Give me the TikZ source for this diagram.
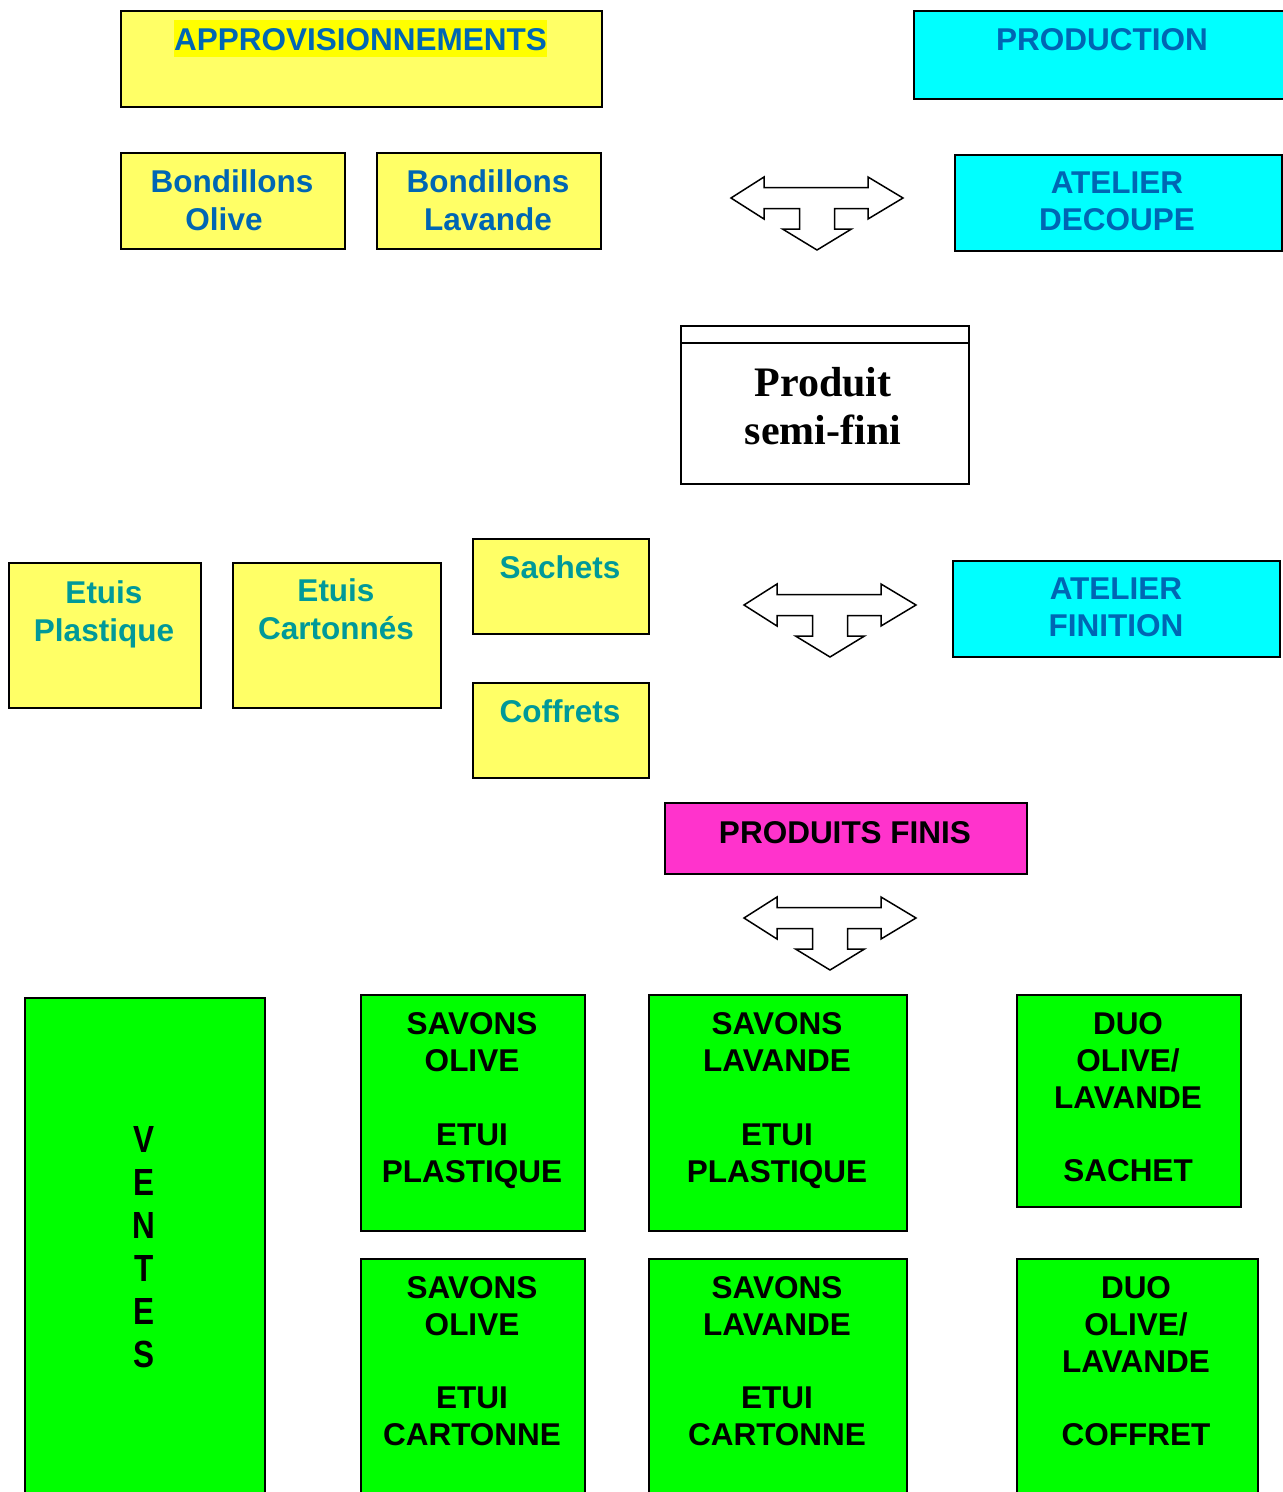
\documentclass[tikz,border=0pt]{standalone}
\usepackage{fontspec}
\setmainfont{Liberation Sans}
\newfontfamily\timesf{Liberation Serif}
\definecolor{tblue}{RGB}{0,102,179}
\definecolor{tteal}{RGB}{0,153,153}
\definecolor{lyellow}{RGB}{255,255,102}
\definecolor{hyellow}{RGB}{255,255,0}
\definecolor{tcyan}{RGB}{0,255,255}
\definecolor{tgreen}{RGB}{0,255,0}
\definecolor{tmag}{RGB}{255,51,204}
\tikzset{
  box/.style={draw=black, line width=1.6pt, anchor=north west, inner sep=0pt},
  txt/.style={anchor=north, inner sep=0pt, align=center, font=\bfseries\fontsize{31.5}{37}\selectfont},
  tarrow/.pic={
    \draw[line width=1.5pt, fill=white, line join=miter]
      (-86,0) -- (-53,-21) -- (-53,-10.5) -- (51,-10.5) -- (51,-21) -- (86,0)
      -- (51,21) -- (51,10.5) -- (17.5,10.5) -- (17.5,31) -- (34.5,31) -- (0,52)
      -- (-34.5,31) -- (-17.5,31) -- (-17.5,10.5) -- (-53,10.5) -- (-53,21) -- cycle;
  }
}
\begin{document}
\begin{tikzpicture}[x=1pt,y=-1pt]
\useasboundingbox (0,0) rectangle (1283,1492);
\clip (0,0) rectangle (1283,1492);

% Approvisionnements
\node[box, fill=lyellow, minimum width=481pt, minimum height=96pt] (appro) at (120,10) {};
\node[anchor=base, inner xsep=0pt, inner ysep=0pt, fill=hyellow, text=tblue, text height=30.5pt, text depth=6.5pt,
      font=\bfseries\fontsize{31.5}{37}\selectfont] (approt) at (360.5,50.5) {APPROVISIONNEMENTS};

% Production
\node[box, fill=tcyan, minimum width=380pt, minimum height=88pt] (prod) at (913,10) {};
\node[txt, text=tblue] (prodt) at (1102,28) {PRODUCTION};

% Bondillons
\node[box, fill=lyellow, minimum width=224pt, minimum height=96pt] (bo) at (120,152) {};
\node[txt, text=tblue] (bot) at (232,169) {Bondillons\\[1pt]Olive\kern16pt};
\node[box, fill=lyellow, minimum width=224pt, minimum height=96pt] (bl) at (376,152) {};
\node[txt, text=tblue] (blt) at (488,169) {Bondillons\\[1pt]Lavande};

% Atelier decoupe
\node[box, fill=tcyan, minimum width=327pt, minimum height=96pt] (ad) at (954,154) {};
\node[txt, text=tblue] (adt) at (1117,172) {ATELIER\\DECOUPE};

\pic (a1) at (817,198) {tarrow};

% Produit semi-fini
\node[box, fill=white, minimum width=288pt, minimum height=158pt] (psf) at (680,325) {};
\draw[line width=1.6pt] (psf.north west) ++(0,18) coordinate (psfl) -- (psfl -| psf.east);
\node[anchor=north, inner sep=0pt, align=center, font=\timesf\bfseries\fontsize{42}{48}\selectfont] (psft) at (823,367) {Produit\\semi-fini};

% Emballages
\node[box, fill=lyellow, minimum width=192pt, minimum height=145pt] (ep) at (8,562) {};
\node[txt, text=tteal] (ept) at (104,580) {Etuis\\[1pt]Plastique};
\node[box, fill=lyellow, minimum width=208pt, minimum height=145pt] (ec) at (232,562) {};
\node[txt, text=tteal] (ect) at (336,578) {Etuis\\[1pt]Cartonnés};
\node[box, fill=lyellow, minimum width=176pt, minimum height=95pt] (sa) at (472,538) {};
\node[txt, text=tteal] (sat) at (560,555) {Sachets};
\node[box, fill=lyellow, minimum width=176pt, minimum height=95pt] (co) at (472,682) {};
\node[txt, text=tteal] (cot) at (560,699) {Coffrets};

% Atelier finition
\node[box, fill=tcyan, minimum width=327pt, minimum height=96pt] (af) at (952,560) {};
\node[txt, text=tblue] (aft) at (1116,578) {ATELIER\\FINITION};

\pic (a2) at (830,605) {tarrow};

% Produits finis
\node[box, fill=tmag, minimum width=362pt, minimum height=71pt] (pf) at (664,802) {};
\node[txt, text=black] (pft) at (845,821) {PRODUITS FINIS};

\pic (a3) at (830,918) {tarrow};

% Ventes
\node[box, fill=tgreen, minimum width=240pt, minimum height=520pt] (ve) at (24,997) {};
\node[anchor=north, inner sep=0pt, align=center, yscale=1.2, transform shape,
      font=\bfseries\fontsize{31.5}{35.8}\selectfont] (vet) at (144,1126) {V\\E\\N\\T\\E\\S};

% Produits
\node[box, fill=tgreen, minimum width=224pt, minimum height=236pt] (sop) at (360,994) {};
\node[txt] (sopt) at (472,1012) {SAVONS\\OLIVE\\[37pt]ETUI\\PLASTIQUE};
\node[box, fill=tgreen, minimum width=258pt, minimum height=236pt] (slp) at (648,994) {};
\node[txt] (slpt) at (777,1012) {SAVONS\\LAVANDE\\[37pt]ETUI\\PLASTIQUE};
\node[box, fill=tgreen, minimum width=224pt, minimum height=212pt] (dus) at (1016,994) {};
\node[txt] (dust) at (1128,1012) {DUO\\OLIVE/\\LAVANDE\\[36pt]SACHET};

\node[box, fill=tgreen, minimum width=224pt, minimum height=260pt] (soc) at (360,1258) {};
\node[txt] (soct) at (472,1276) {SAVONS\\OLIVE\\[36pt]ETUI\\CARTONNE};
\node[box, fill=tgreen, minimum width=258pt, minimum height=260pt] (slc) at (648,1258) {};
\node[txt] (slct) at (777,1276) {SAVONS\\LAVANDE\\[36pt]ETUI\\CARTONNE};
\node[box, fill=tgreen, minimum width=241pt, minimum height=260pt] (duc) at (1016,1258) {};
\node[txt] (duct) at (1136,1276) {DUO\\OLIVE/\\LAVANDE\\[36pt]COFFRET};
\end{tikzpicture}
\end{document}
